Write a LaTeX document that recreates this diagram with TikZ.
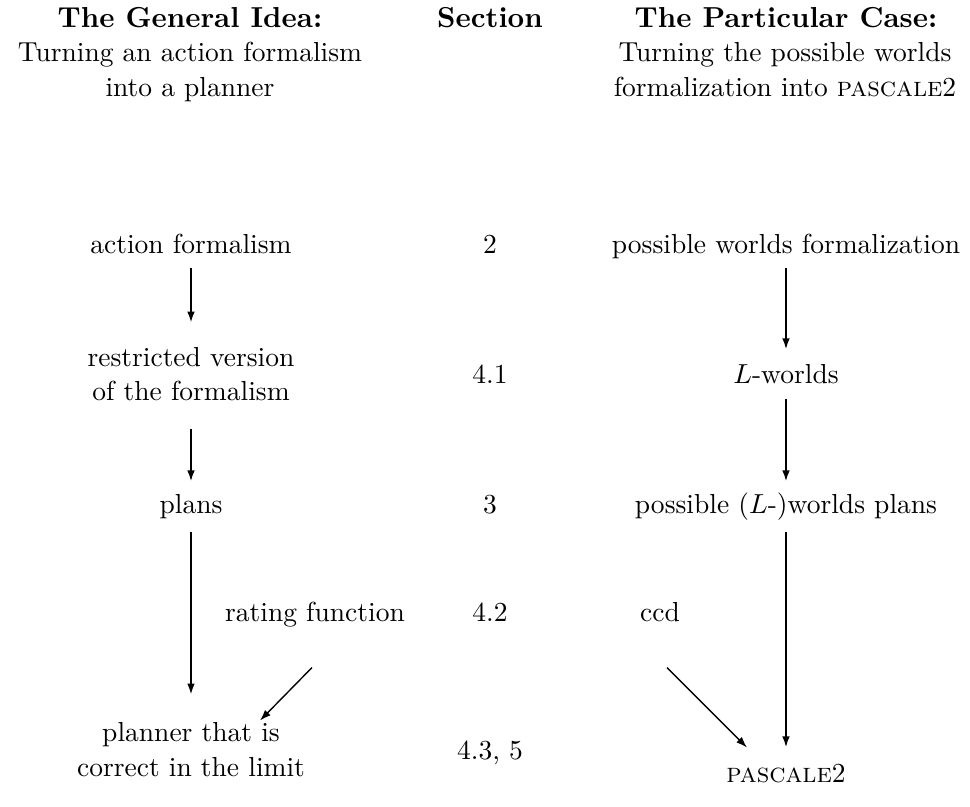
\documentclass[tikz,border=0pt]{standalone}
\usetikzlibrary{arrows.meta,calc}
\begin{document}
\begin{tikzpicture}[x=0.3636pt,y=-0.3636pt,
  txt/.style={inner sep=0pt,text height=7pt,text depth=2pt,anchor=base},
  head/.style={txt,font=\fontsize{10.5}{12}\selectfont\bfseries},
  arr/.style={-{Latex[length=4pt,width=2.8pt]},line width=0.65pt},
  darr/.style={-{Latex[length=4pt,width=2.8pt]},line width=0.5pt}]
\useasboundingbox (0,0) rectangle (970,807);
% headers
\node[head] (h1a) at (190,27) {The General Idea:};
\node[txt] (h1b) at (190,62) {Turning an action formalism};
\node[txt] (h1c) at (190,97) {into a planner};
\node[head] (sec) at (490,27) {Section};
\node[head] (h3a) at (786,27) {The Particular Case:};
\node[txt] (h3b) at (785,62) {Turning the possible worlds};
\node[txt] (h3c) at (785,97) {formalization into \textsc{pascale}2};
% left column
\node[txt] (af) at (191,253) {action formalism};
\node[txt] (rv1) at (191,366) {restricted version};
\node[txt] (rv2) at (191,401) {of the formalism};
\node[txt] (pl) at (191,513) {plans};
\node[txt] (rf) at (315,621) {rating function};
\node[txt] (pn1) at (191,741) {planner that is};
\node[txt] (pn2) at (191,776) {correct in the limit};
% section column
\node[txt] (s2) at (490,253) {2};
\node[txt] (s41) at (490,384) {4.1};
\node[txt] (s3) at (490,513) {3};
\node[txt] (s42) at (490,621) {4.2};
\node[txt] (s43) at (490,759) {4.3, 5};
% right column
\node[txt] (pw) at (786,253) {possible worlds formalization};
\node[txt] (lw) at (786,384) {$L$-worlds};
\node[txt] (pp) at (786,513) {possible ($L$-)worlds plans};
\node[txt] (ccd) at (660,621) {ccd};
\node[txt] (ps) at (786,782) {\textsc{pascale}2};
% arrows left
\draw[arr,shorten <=3.1pt,shorten >=8.6pt] (af) -- (rv1);
\draw[arr,shorten <=7.8pt,shorten >=4.3pt] (rv2) -- (pl);
\draw[arr,shorten <=4.6pt,shorten >=9.7pt] (pl) -- (pn1);
\draw[darr] ($(rf.south)+(-3,40.5)$) -- ($(rf.south)+(-55,93.5)$);
% arrows right
\draw[arr,shorten <=3.1pt,shorten >=5.4pt] (pw) -- (lw);
\draw[arr,shorten <=3.1pt,shorten >=4.3pt] (lw) -- (pp);
\draw[arr,shorten <=4.6pt,shorten >=5.4pt] (pp) -- (ps);
\draw[darr] ($(ccd.south)+(7,40.5)$) -- ($(ccd.south)+(87,120.5)$);
\end{tikzpicture}
\end{document}
